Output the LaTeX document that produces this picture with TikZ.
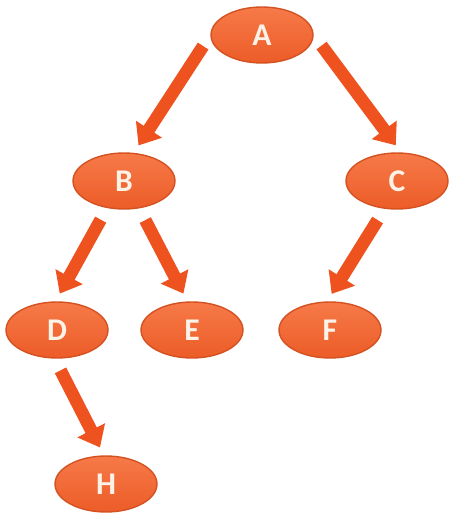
\documentclass[tikz,border=0pt]{standalone}
\usepackage{fontspec}
\setmainfont{Carlito}
\usetikzlibrary{arrows.meta,shapes.geometric}
\definecolor{TreeTop}{RGB}{246,122,72}
\definecolor{TreeBottom}{RGB}{236,92,40}
\definecolor{TreeEdge}{RGB}{212,82,34}
\definecolor{TreeArrow}{RGB}{238,82,30}
\definecolor{TreeText}{RGB}{252,242,232}
\tikzset{
  tree/node/.style={
    ellipse,
    draw=TreeEdge,
    thick,
    top color=TreeTop,
    bottom color=TreeBottom,
    text=TreeText,
    minimum width=2.04cm,
    minimum height=1.12cm,
    inner sep=0pt,
    font=\fontsize{18}{20}\selectfont\bfseries
  },
  tree/arrow/.style={
    -{Triangle[length=11pt,width=17pt]},
    line width=7.2pt,
    draw=TreeArrow,
    shorten <=7.5pt,
    shorten >=5pt
  }
}

\begin{document}
\begin{tikzpicture}[x=0.02cm,y=-0.02cm]
  \useasboundingbox (0,0) rectangle (474,527);
  \node[tree/node] (A) at (262,35) {A};
  \node[tree/node] (B) at (124,181) {B};
  \node[tree/node] (C) at (397,181) {C};
  \node[tree/node] (D) at (57,330) {D};
  \node[tree/node] (E) at (192,330) {E};
  \node[tree/node] (F) at (330,330) {F};
  \node[tree/node] (H) at (106,484) {H};
  \draw[tree/arrow] (A.180) -- (B.71);
  \draw[tree/arrow] (A.0) -- (C.82);
  \draw[tree/arrow] (B.238) -- (D.93);
  \draw[tree/arrow] (B.299) -- (E.99);
  \draw[tree/arrow] (C.246) -- (F.96);
  \draw[tree/arrow] (D.265) -- (H.94);
\end{tikzpicture}
\end{document}
